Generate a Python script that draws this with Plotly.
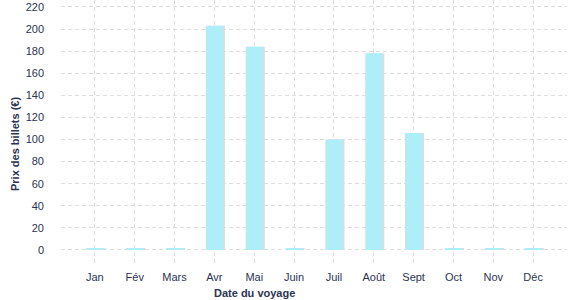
import plotly.graph_objects as go

months = ["Jan", "Fév", "Mars", "Avr", "Mai", "Juin", "Juil", "Août", "Sept", "Oct", "Nov", "Déc"]
prices = [1, 1, 1, 203, 184, 1, 100, 178, 106, 1, 1, 1]
y_ticks = list(range(0, 221, 20))

font_family = "Liberation Sans, Arial, sans-serif"
text_color = "#2a3452"

fig = go.Figure()
# shadow
fig.add_trace(go.Bar(x=months, y=prices, width=0.43, offset=-0.215 + 0.05,
                     marker=dict(color="#dcdcdc", line=dict(width=0)),
                     hoverinfo="skip", showlegend=False))
fig.add_trace(go.Bar(x=months, y=prices, width=0.43, offset=-0.215,
                     marker=dict(color="#aeeef8", line=dict(width=0)),
                     showlegend=False))

fig.update_layout(
    width=577, height=300,
    margin=dict(l=61, r=10, t=0, b=35),
    barmode="overlay",
    plot_bgcolor="white", paper_bgcolor="white",
    font=dict(family=font_family, size=11, color=text_color),
    xaxis=dict(
        range=[-0.85, 11.85],
        showgrid=True, gridcolor="#dddddd", griddash="4px,3px", gridwidth=1,
        showline=False, zeroline=False, ticks="",
        ticklabelstandoff=4,
        tickfont=dict(size=11, color=text_color),
    ),
    yaxis=dict(
        range=[-13.6, 226.3],
        tickvals=y_ticks,
        showgrid=True, gridcolor="#dddddd", griddash="4px,3px", gridwidth=1,
        showline=False, zeroline=False, ticks="",
        ticklabelstandoff=16,
        tickfont=dict(size=11, color=text_color),
    ),
    annotations=[
        dict(text="<b>Date du voyage</b>", x=254, y=293, xref="paper", yref="paper",
             xanchor="center", yanchor="middle",
             showarrow=False, font=dict(size=11, color=text_color)),
        dict(text="<b>Prix des billets (€)</b>", x=15, y=144, xref="paper", yref="paper",
             xanchor="center", yanchor="middle",
             textangle=-90, showarrow=False, font=dict(size=11, color=text_color)),
    ],
)

# convert pixel annotation positions to paper coordinates
pw = 577 - 61 - 10
ph = 300 - 0 - 35
for a in fig.layout.annotations:
    px, py = a.x, a.y
    a.x = (px - 61) / pw
    a.y = (300 - 35 - py) / ph

fig.write_html("out.html")
